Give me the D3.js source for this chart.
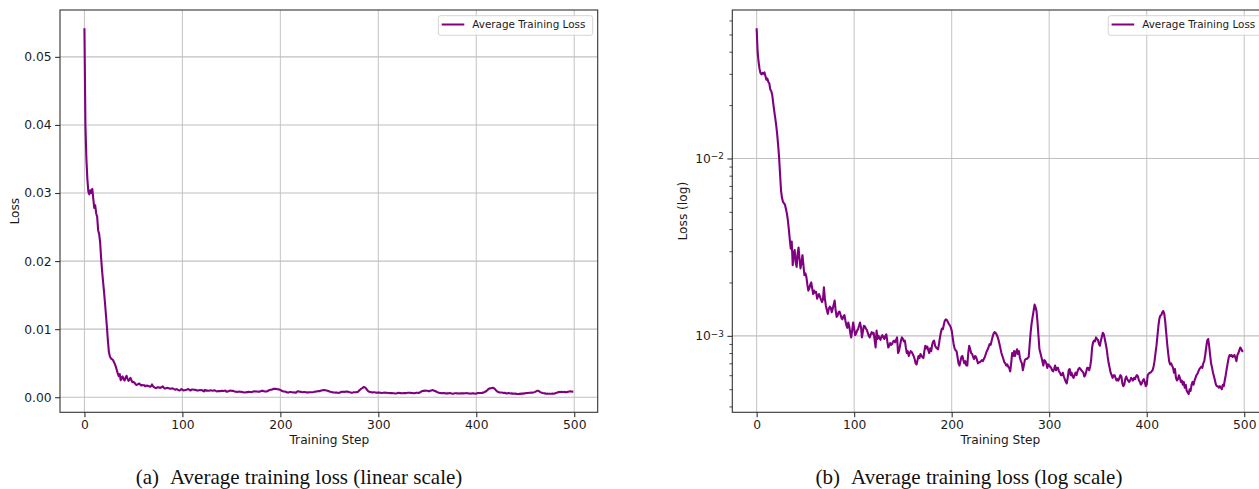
<!DOCTYPE html>
<html lang="en">
<head>
<meta charset="UTF-8">
<title>Average training loss</title>
<style>
  body { margin: 0; background: #fff; }
  svg { display: block; }
  .tick text, .axis-label, .legend text { font-family: "DejaVu Sans", sans-serif; fill: #1a1a1a; }
  .caption { font-family: "Liberation Serif", "Times New Roman", serif; fill: #111; }
</style>
</head>
<body>
<svg id="chart" width="1259" height="489"></svg>
<script src="https://cdn.jsdelivr.net/npm/d3@7/dist/d3.min.js"></script>
<script>
// average training loss per step, in units of 1e-3
const lossMilli = [
  54.2, 40, 35, 32, 30.2, 29.8, 30.4, 30.0, 30.6, 29.2, 27.8, 28.2, 27.0, 26.5, 24.5, 24.0, 22.8, 20.5, 18.6, 17.0,
  15.5, 13.8, 12.0, 10.2, 8.2, 6.6, 6.0, 5.7, 5.6, 5.5, 5.2, 4.9, 4.5, 4.0, 3.5, 3.1, 3.4, 2.5, 2.9, 3.05,
  2.6, 2.45, 2.9, 3.15, 2.7, 2.4, 2.6, 2.85, 2.5, 2.2, 2.25, 2.15, 1.95, 1.8, 1.85, 1.95, 2.0, 1.85, 1.72, 1.8,
  1.75, 1.77, 1.62, 1.68, 1.72, 1.66, 1.6, 1.55, 1.6, 1.88, 1.62, 1.48, 1.4, 1.33, 1.42, 1.46, 1.44, 1.36, 1.42, 1.5,
  1.58, 1.4, 1.28, 1.3, 1.36, 1.37, 1.32, 1.26, 1.24, 1.29, 1.31, 1.22, 1.15, 1.11, 1.19, 1.13, 1.04, 0.98, 1.08, 1.19,
  1.1, 1.01, 1.03, 1.07, 1.09, 1.14, 1.19, 1.12, 0.98, 1.06, 1.14, 1.13, 1.1, 1.08, 1.04, 1.0, 0.98, 1.02, 1.05, 1.03,
  1.04, 0.95, 0.86, 1.07, 0.96, 1.0, 0.97, 0.95, 0.99, 1.01, 0.98, 0.96, 1.0, 1.02, 0.93, 0.86, 0.88, 0.91, 0.89, 0.9,
  0.93, 0.94, 0.92, 0.95, 0.98, 0.8, 0.82, 0.88, 0.94, 0.98, 0.96, 0.93, 0.94, 0.86, 0.8, 0.82, 0.77, 0.8, 0.82, 0.81,
  0.79, 0.77, 0.74, 0.7, 0.69, 0.73, 0.77, 0.75, 0.79, 0.77, 0.76, 0.75, 0.82, 0.88, 0.85, 0.87, 0.83, 0.8, 0.85, 0.82,
  0.89, 0.93, 0.94, 0.88, 0.86, 0.85, 0.84, 0.9, 0.98, 1.05, 1.1, 1.09, 1.16, 1.22, 1.24, 1.23, 1.2, 1.17, 1.15, 1.12,
  1.07, 0.98, 0.9, 0.85, 0.83, 0.82, 0.76, 0.7, 0.68, 0.72, 0.76, 0.77, 0.73, 0.7, 0.72, 0.68, 0.68, 0.8, 0.88, 0.84,
  0.8, 0.79, 0.76, 0.74, 0.77, 0.76, 0.73, 0.7, 0.71, 0.71, 0.72, 0.73, 0.72, 0.74, 0.76, 0.79, 0.82, 0.84, 0.87, 0.9,
  0.89, 0.94, 0.99, 1.03, 1.05, 1.04, 1.02, 0.99, 0.95, 0.9, 0.85, 0.8, 0.77, 0.74, 0.71, 0.7, 0.68, 0.69, 0.67, 0.66,
  0.63, 0.7, 0.8, 0.77, 0.82, 0.77, 0.81, 0.84, 0.79, 0.82, 0.75, 0.72, 0.7, 0.64, 0.68, 0.73, 0.74, 0.74, 0.75, 0.76,
  0.9, 1.05, 1.18, 1.28, 1.38, 1.5, 1.45, 1.38, 1.2, 1.0, 0.84, 0.8, 0.76, 0.72, 0.68, 0.73, 0.72, 0.7, 0.66, 0.69,
  0.68, 0.67, 0.66, 0.64, 0.63, 0.65, 0.68, 0.64, 0.66, 0.66, 0.63, 0.62, 0.6, 0.6, 0.62, 0.59, 0.57, 0.55, 0.54, 0.58,
  0.64, 0.65, 0.6, 0.62, 0.59, 0.58, 0.6, 0.62, 0.6, 0.63, 0.65, 0.66, 0.65, 0.64, 0.63, 0.62, 0.59, 0.6, 0.63, 0.66,
  0.66, 0.64, 0.67, 0.73, 0.86, 0.92, 0.94, 0.93, 0.98, 0.96, 0.95, 0.9, 0.88, 0.94, 0.99, 1.04, 1.02, 0.96, 0.9, 0.84,
  0.76, 0.7, 0.66, 0.62, 0.6, 0.58, 0.6, 0.6, 0.58, 0.56, 0.57, 0.56, 0.58, 0.6, 0.59, 0.54, 0.52, 0.53, 0.57, 0.59,
  0.57, 0.56, 0.55, 0.56, 0.58, 0.57, 0.56, 0.58, 0.57, 0.59, 0.6, 0.59, 0.56, 0.55, 0.53, 0.54, 0.56, 0.57, 0.55, 0.52,
  0.53, 0.6, 0.61, 0.62, 0.62, 0.63, 0.64, 0.67, 0.72, 0.8, 0.88, 1.0, 1.14, 1.25, 1.3, 1.31, 1.36, 1.38, 1.33, 1.2,
  1.04, 0.9, 0.8, 0.72, 0.69, 0.7, 0.68, 0.66, 0.62, 0.65, 0.58, 0.56, 0.57, 0.6, 0.58, 0.55, 0.56, 0.53, 0.55, 0.51,
  0.53, 0.49, 0.48, 0.47, 0.5, 0.49, 0.53, 0.55, 0.53, 0.56, 0.58, 0.6, 0.61, 0.63, 0.65, 0.66, 0.67, 0.66, 0.7, 0.72,
  0.78, 0.86, 0.94, 0.96, 0.88, 0.78, 0.7, 0.66, 0.62, 0.59, 0.56, 0.53, 0.52, 0.52, 0.51, 0.52, 0.51, 0.5, 0.53, 0.52,
  0.56, 0.6, 0.65, 0.7, 0.75, 0.78, 0.77, 0.78, 0.76, 0.77, 0.78, 0.75, 0.72, 0.78, 0.8, 0.83, 0.86, 0.84, 0.82, 0.82
];
const loss = lossMilli.map(v => v / 1000);
const data = loss.map((v, i) => ({ step: i, loss: v }));

const xTicks = [0, 100, 200, 300, 400, 500];
const linearTicks = [0, 0.01, 0.02, 0.03, 0.04, 0.05];
const logTicks = [1e-3, 1e-2];
const seriesName = "Average Training Loss";
const xLabel = "Training Step";

const plotTop = 10, plotBottom = 412.3;
const purple = "#800080";

const panels = [
  { left: 60, right: 597.7, type: "linear", yLabel: "Loss", yLabelX: 18.5,
    tag: "(a)", caption: "Average training loss (linear scale)", captionX: 299 },
  { left: 732.3, right: 1267.6, type: "log", yLabel: "Loss (log)", yLabelX: 687,
    tag: "(b)", caption: "Average training loss (log scale)", captionX: 969 }
];

const svg = d3.select("#chart");

// matplotlib style 5% margins
const xExt = d3.extent(data, d => d.step);
const xPad = (xExt[1] - xExt[0]) * 0.05;
const yExt = d3.extent(data, d => d.loss);

panels.forEach(p => {
  const g = svg.append("g");
  const x = d3.scaleLinear().domain([xExt[0] - xPad, xExt[1] + xPad]).range([p.left, p.right]);
  let y;
  if (p.type === "linear") {
    const pad = (yExt[1] - yExt[0]) * 0.05;
    y = d3.scaleLinear().domain([yExt[0] - pad, yExt[1] + pad]).range([plotBottom, plotTop]);
  } else {
    const lo = Math.log10(yExt[0]), hi = Math.log10(yExt[1]);
    const pad = (hi - lo) * 0.05;
    y = d3.scaleLog().domain([Math.pow(10, lo - pad), Math.pow(10, hi + pad)]).range([plotBottom, plotTop]);
  }
  const yMajor = p.type === "linear" ? linearTicks : logTicks;

  // grid
  g.append("g").selectAll("line").data(xTicks).join("line")
    .attr("x1", d => x(d)).attr("x2", d => x(d))
    .attr("y1", plotTop).attr("y2", plotBottom)
    .attr("stroke", "#c8c8c8").attr("stroke-width", 1.1);
  g.append("g").selectAll("line").data(yMajor).join("line")
    .attr("x1", p.left).attr("x2", p.right)
    .attr("y1", d => y(d)).attr("y2", d => y(d))
    .attr("stroke", "#c0c0c0").attr("stroke-width", 1.1);

  // loss line
  g.append("path")
    .datum(data)
    .attr("fill", "none")
    .attr("stroke", purple)
    .attr("stroke-width", 2.1)
    .attr("stroke-linejoin", "round")
    .attr("d", d3.line().x(d => x(d.step)).y(d => y(d.loss)));

  // spines
  g.append("rect")
    .attr("x", p.left).attr("y", plotTop)
    .attr("width", p.right - p.left).attr("height", plotBottom - plotTop)
    .attr("fill", "none").attr("stroke", "#333").attr("stroke-width", 1.1);

  // x axis
  const xa = g.append("g").attr("transform", `translate(0,${plotBottom})`)
    .call(d3.axisBottom(x).tickValues(xTicks).tickSize(4.9).tickPadding(2.6).tickFormat(d3.format("d")));
  xa.select(".domain").remove();
  xa.selectAll(".tick line").attr("stroke", "#333").attr("stroke-width", 1.1);
  xa.selectAll(".tick text").attr("font-size", "12.3px");

  // y axis
  const ya = g.append("g").attr("transform", `translate(${p.left},0)`);
  if (p.type === "linear") {
    ya.call(d3.axisLeft(y).tickValues(linearTicks).tickSize(4.9).tickPadding(3.5).tickFormat(d3.format(".2f")));
  } else {
    ya.call(d3.axisLeft(y).tickValues(logTicks).tickSize(4.9).tickPadding(3.5).tickFormat(() => ""));
    ya.selectAll(".tick text").each(function (d) {
      const t = d3.select(this);
      t.append("tspan").text("10");
      t.append("tspan").attr("dy", "-0.42em").attr("font-size", "0.72em")
        .text("\u2212" + Math.abs(Math.round(Math.log10(d))));
    });
    const minor = y.ticks().filter(v => Math.abs(Math.log10(v) - Math.round(Math.log10(v))) > 1e-6);
    const ym = g.append("g").attr("transform", `translate(${p.left},0)`)
      .call(d3.axisLeft(y).tickValues(minor).tickSize(2.8).tickFormat(() => ""));
    ym.select(".domain").remove();
    ym.selectAll(".tick line").attr("stroke", "#333").attr("stroke-width", 0.9);
  }
  ya.select(".domain").remove();
  ya.selectAll(".tick line").attr("stroke", "#333").attr("stroke-width", 1.1);
  ya.selectAll(".tick text").attr("font-size", "12.3px");

  // axis labels
  g.append("text").attr("class", "axis-label")
    .attr("x", (x(0) + x(500)) / 2).attr("y", 444)
    .attr("text-anchor", "middle").attr("font-size", "12.2px")
    .text(xLabel);
  g.append("text").attr("class", "axis-label")
    .attr("transform", `translate(${p.yLabelX},${(plotTop + plotBottom) / 2}) rotate(-90)`)
    .attr("text-anchor", "middle").attr("font-size", "12.2px")
    .text(p.yLabel);

  // legend
  const lw = 154.4, lh = 19.6;
  const lx = p.right - 5 - lw, ly = plotTop + 5.7;
  const lg = g.append("g").attr("class", "legend");
  lg.append("rect").attr("x", lx).attr("y", ly).attr("width", lw).attr("height", lh)
    .attr("rx", 2.5).attr("fill", "#fff").attr("fill-opacity", 0.8)
    .attr("stroke", "#d4d4d4").attr("stroke-width", 1);
  lg.append("line").attr("x1", lx + 3.4).attr("x2", lx + 26).attr("y1", ly + 8.8).attr("y2", ly + 8.8)
    .attr("stroke", purple).attr("stroke-width", 2);
  lg.append("text").attr("x", lx + 34).attr("y", ly + 12.5).attr("font-size", "10.4px").text(seriesName);

  // caption
  const cap = svg.append("text").attr("class", "caption")
    .attr("x", p.captionX).attr("y", 484).attr("text-anchor", "middle").attr("font-size", "21px");
  cap.append("tspan").text(p.tag);
  cap.append("tspan").attr("dx", 11).text(p.caption);
});
</script>
</body>
</html>
